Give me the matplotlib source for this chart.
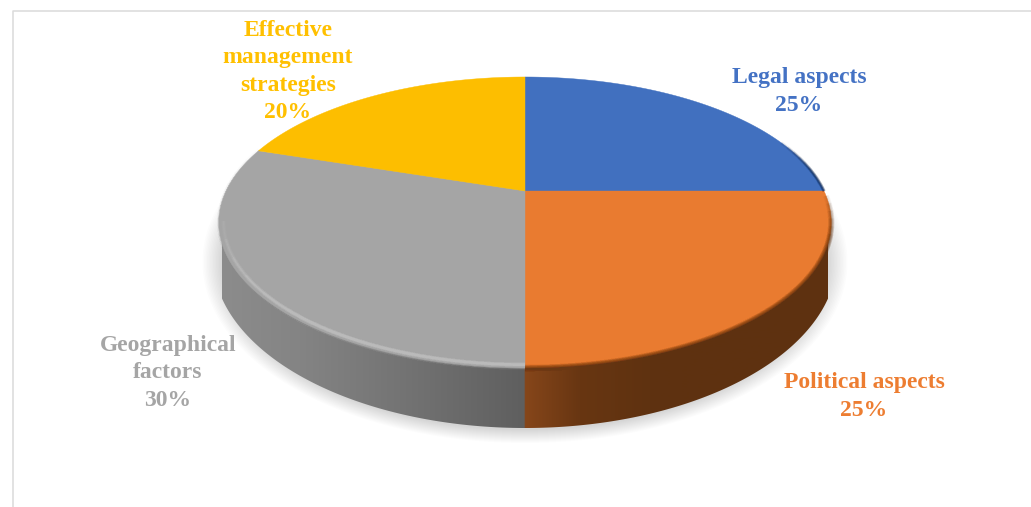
import numpy as np
import matplotlib
matplotlib.use("Agg")
import matplotlib.pyplot as plt
from matplotlib.patches import Polygon

categories = ["Legal aspects", "Political aspects", "Geographical\nfactors", "Effective\nmanagement\nstrategies"]
values = [25, 25, 30, 20]
colors = ["#4170BF", "#E97B30", "#A5A5A5", "#FDBE00"]
label_colors = ["#4472C4", "#ED7D31", "#A5A5A5", "#FFC000"]
label_pos = [(799, 91.5), (864, 396.5), (168, 373), (288, 71.5)]

# perspective of the disc, in image pixels
cx, cy = 525, 191
X, Y, b = 299, 138.7, 0.2165


def project(t, r=1.0):
    # t in degrees, clockwise from the top
    t = np.radians(t)
    u, v = r*np.sin(t), r*np.cos(t)
    w = 1 + b*v
    return cx + X*u/w, cy - Y*v/w


def soft_arc(ax, t0, t1, r, color, width, alpha, fade=0):
    # stacked strokes stand in for a blur, shorter ones give the fade at t1
    ends = np.linspace(t1 - fade, t1, 6) if fade else [t1]
    for e in ends:
        x, y = project(np.linspace(t0, e, 200), r)
        for lw in np.linspace(0.6, width, 6):
            ax.plot(x, y, color=color, lw=lw, alpha=alpha/len(ends)*1.6,
                    solid_capstyle="butt", zorder=5)


fig = plt.figure(figsize=(10.31, 5.07), dpi=100)
ax = fig.add_axes([0, 0, 1, 1])

# frame of the pasted chart
ax.plot([12.5, 12.5, 1031], [507, 10.5, 10.5], color="#DADADA", lw=1.1, zorder=1)

# soft shadow under the disc
for i in range(14):
    th = np.linspace(0, 2*np.pi, 300)
    ax.fill(525 + (303 + i*1.5)*np.cos(th), 262 + (168 + i*1.0)*np.sin(th),
            color="#000000", alpha=0.012, lw=0, zorder=1)

# side wall, horizontal gradient clipped to the outline
wall_x = np.arange(222, 829)
wall_y = 258 + 170*np.sqrt(1 - ((wall_x - 525)/312.0)**2)
outline = np.column_stack([np.r_[wall_x, 828, 222], np.r_[wall_y, 230, 230]])
stops_x = [222, 300, 400, 524.5, 525.5, 580, 650, 828]
stops_c = np.array([[0x8C, 0x8C, 0x8C], [0x84, 0x84, 0x84], [0x74, 0x74, 0x74], [0x5F, 0x5F, 0x5F],
                    [0x86, 0x46, 0x1A], [0x68, 0x36, 0x12], [0x5F, 0x32, 0x10], [0x5E, 0x31, 0x10]])
grid_x = np.arange(222, 829, 0.5)
grad = np.stack([np.interp(grid_x, stops_x, stops_c[:, k]) for k in range(3)], axis=1) / 255.0
img = ax.imshow(grad[np.newaxis, :, :], extent=(222, 828, 440, 220), aspect="auto", zorder=2)
clip = Polygon(outline, closed=True, transform=ax.transData)
img.set_clip_path(clip)

# top of the pie
start = 0.0
spans = []
for val, col in zip(values, colors):
    end = start + val/sum(values)*360
    x, y = project(np.linspace(start, end, 200))
    ax.fill(np.r_[cx, x], np.r_[cy, y], color=col, lw=0.3, zorder=3)
    spans.append((start, end))
    start = end

# bevel on the rim
g0, g1 = spans[2]
soft_arc(ax, g0, g1, 0.995, "#BDBDBD", 4.5, 0.08, fade=25)
soft_arc(ax, g0, g0 + 78, 0.985, "#E4E4E4", 3.5, 0.09, fade=35)

# orange and blue fade the other way, so they are drawn from the far end
p0, p1 = spans[1]
soft_arc(ax, p1, p0 + 2, 1.0, "#6A3813", 4.5, 0.12, fade=-15)

b0, b1 = spans[0]
soft_arc(ax, b1, b0 + 68, 1.0, "#1F3864", 2.5, 0.12, fade=-12)

for cat, val, col, pos in zip(categories, values, label_colors, label_pos):
    ax.text(pos[0], pos[1], f"{cat}\n{val}%", color=col, ha="center", va="center",
            family="Liberation Serif", fontweight="bold", fontsize=17,
            linespacing=1.40, zorder=6)

ax.set_xlim(0, 1031)
ax.set_ylim(507, 0)
ax.axis("off")
fig.savefig("out.png", dpi=100)
